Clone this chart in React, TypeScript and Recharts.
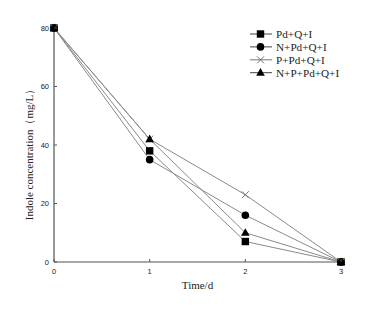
import React from 'react';
import { LineChart, Line, XAxis, YAxis, Legend, Label } from 'recharts';

const days = [0, 1, 2, 3];
const pdQI = [80, 38, 7, 0];
const nPdQI = [80, 35, 16, 0];
const pPdQI = [80, 42, 23, 0];
const npPdQI = [80, 42, 10, 0];
const seriesNames = ['Pd+Q+I', 'N+Pd+Q+I', 'P+Pd+Q+I', 'N+P+Pd+Q+I'];
const xTicks = [0, 1, 2, 3];
const yTicks = [0, 20, 40, 60, 80];

const data = days.map((d, i) => ({ day: d, s0: pdQI[i], s1: nPdQI[i], s2: pPdQI[i], s3: npPdQI[i] }));

const shapes = ['square', 'circle', 'cross', 'triangle'];
const LINE = '#8a8a8a';
const AXIS = '#555';
const TICKFONT = '"Liberation Sans", Arial, sans-serif';
const SERIF = '"Liberation Serif", "Times New Roman", serif';

function MarkerShape({ shape, cx, cy }: { shape: string; cx: number; cy: number }) {
  if (shape === 'square') return <rect x={cx - 3.7} y={cy - 3.7} width={7.4} height={7.4} fill="#000" />;
  if (shape === 'circle') return <circle cx={cx} cy={cy} r={3.8} fill="#000" />;
  if (shape === 'cross')
    return (
      <g stroke="#666" strokeWidth={0.9}>
        <line x1={cx - 3.5} y1={cy - 3.5} x2={cx + 3.5} y2={cy + 3.5} />
        <line x1={cx - 3.5} y1={cy + 3.5} x2={cx + 3.5} y2={cy - 3.5} />
      </g>
    );
  return <polygon points={`${cx},${cy - 4.6} ${cx - 4.3},${cy + 3.1} ${cx + 4.3},${cy + 3.1}`} fill="#000" />;
}

const makeDot = (shape: string) => (props: any) => {
  const { cx, cy, index } = props;
  if (cx == null || cy == null) return <g key={`d-${shape}-${index}`} />;
  return (
    <g key={`d-${shape}-${index}`}>
      <MarkerShape shape={shape} cx={cx} cy={cy} />
    </g>
  );
};

const XTick = (props: any) => {
  const { x, y, payload } = props;
  const axisY = y - 6;
  return (
    <g>
      <line x1={x} y1={axisY} x2={x} y2={axisY - 3} stroke={AXIS} strokeWidth={1} />
      <text x={x} y={axisY + 12} textAnchor="middle" fontSize={7.5} fontFamily={TICKFONT} fill="#222">
        {payload.value}
      </text>
    </g>
  );
};

const YTick = (props: any) => {
  const { x, y, payload } = props;
  const axisX = x + 5;
  return (
    <g>
      <line x1={axisX} y1={y} x2={axisX + 3} y2={y} stroke={AXIS} strokeWidth={1} />
      <text x={x} y={y + 2.7} textAnchor="end" fontSize={7.5} fontFamily={TICKFONT} fill="#222">
        {payload.value}
      </text>
    </g>
  );
};

const YTitle = (props: any) => {
  const vb = props.viewBox || {};
  const cx = (vb.x ?? 24) + 5;
  const cy = (vb.y ?? 28) + (vb.height ?? 234) / 2 + 7;
  return (
    <text
      x={cx}
      y={cy}
      transform={`rotate(-90, ${cx}, ${cy})`}
      textAnchor="middle"
      dominantBaseline="central"
      fontSize={11}
      fontFamily={SERIF}
      fill="#222"
    >
      {props.value}
    </text>
  );
};

const LegendContent = () => (
  <svg width={116} height={56}>
    {seriesNames.map((name, i) => {
      const cy = 6 + i * 12.9;
      return (
        <g key={name}>
          <line x1={2} y1={cy} x2={24} y2={cy} stroke={i === 2 ? '#777' : '#444'} strokeWidth={1} />
          <MarkerShape shape={shapes[i]} cx={12.5} cy={cy} />
          <text x={28} y={cy + 3.8} fontSize={11.2} fontFamily={SERIF} fill="#222">
            {name}
          </text>
        </g>
      );
    })}
  </svg>
);

export default function App() {
  return (
    <div style={{ position: 'absolute', left: 0, top: 0, width: 366, height: 316, background: '#fff' }}>
      <LineChart width={366} height={316} data={data} margin={{ top: 28, right: 25, bottom: 24, left: 24 }}>
        <XAxis
          dataKey="day"
          type="number"
          domain={[0, 3]}
          ticks={xTicks}
          tickLine={false}
          tickSize={0}
          tickMargin={6}
          tick={<XTick />}
          axisLine={{ stroke: AXIS, strokeWidth: 1.2 }}
          height={30}
          interval={0}
        >
          <Label value="Time/d" position="insideBottom" offset={3} fontSize={11} fontFamily={SERIF} fill="#222" />
        </XAxis>
        <YAxis
          type="number"
          domain={[0, 80]}
          ticks={yTicks}
          tickLine={false}
          tickSize={0}
          tickMargin={5}
          tick={<YTick />}
          axisLine={{ stroke: AXIS, strokeWidth: 1.2 }}
          width={30}
          interval={0}
        >
          <Label value="Indole concentration（mg/L）" content={<YTitle />} />
        </YAxis>
        <Legend
          layout="horizontal"
          verticalAlign="middle"
          align="center"
          content={<LegendContent />}
          wrapperStyle={{ position: 'absolute', left: 248, top: 28, width: 116 }}
        />
        {['s0', 's1', 's2', 's3'].map((k, i) => (
          <Line
            key={k}
            dataKey={k}
            name={seriesNames[i]}
            stroke={LINE}
            strokeWidth={1}
            dot={makeDot(shapes[i])}
            activeDot={false}
            isAnimationActive={false}
          />
        ))}
      </LineChart>
    </div>
  );
}
